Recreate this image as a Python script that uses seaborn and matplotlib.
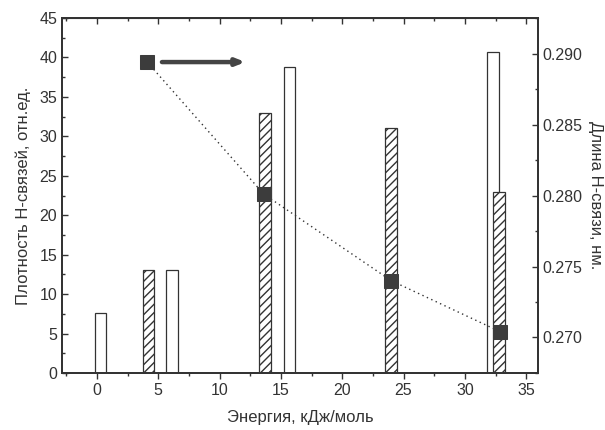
import numpy as np
import seaborn as sns
import matplotlib.pyplot as plt
from matplotlib.ticker import MultipleLocator, FormatStrFormatter

# open bars (density of H-bonds, left axis)
open_x = [0.3, 6.1, 15.7, 32.3]
open_h = [7.6, 13.0, 38.8, 40.7]

# hatched bars (density of H-bonds, left axis)
hatch_x = [4.2, 13.7, 24.0, 32.8]
hatch_h = [13.0, 33.0, 31.0, 23.0]

# H-bond length (right axis)
len_x = [4.1, 13.6, 24.0, 32.9]
len_y = [0.2894, 0.2801, 0.2740, 0.2704]

bar_w = 0.95
ink = '#333333'

sns.set_style('ticks')
plt.rcParams['font.family'] = ['Liberation Sans', 'DejaVu Sans']

fig = plt.figure(figsize=(6.05, 4.3), dpi=100)
ax = fig.add_axes([0.1025, 0.1326, 0.7865, 0.8254])

sns.barplot(x=open_x, y=open_h, native_scale=True, ax=ax,
            width=bar_w / np.diff(open_x).min(), color='white',
            edgecolor=ink, linewidth=0.9, saturation=1)
n_open = len(ax.patches)
sns.barplot(x=hatch_x, y=hatch_h, native_scale=True, ax=ax,
            width=bar_w / np.diff(hatch_x).min(), color='white',
            edgecolor=ink, linewidth=0.9, saturation=1)
for p in ax.patches[n_open:]:
    p.set_hatch('////')

ax.set_xlim(-2.85, 35.95)
ax.set_ylim(0, 45)
ax.xaxis.set_major_locator(MultipleLocator(5))
ax.xaxis.set_minor_locator(MultipleLocator(2.5))
ax.yaxis.set_major_locator(MultipleLocator(5))
ax.yaxis.set_minor_locator(MultipleLocator(2.5))
ax.tick_params(axis='x', which='major', direction='out', length=4, width=1, colors=ink, labelsize=11.5)
ax.tick_params(axis='x', which='minor', direction='out', length=2.5, width=1, colors=ink)
ax.tick_params(axis='y', which='major', direction='in', length=4, width=1, colors=ink, labelsize=11.5)
ax.tick_params(axis='y', which='minor', direction='in', length=2.5, width=1, colors=ink)
ax.set_xlabel('Энергия, кДж/моль', fontsize=12, color=ink, labelpad=8)
ax.set_ylabel('Плотность H-связей, отн.ед.', fontsize=12, color=ink, labelpad=6)

top = ax.secondary_xaxis('top')
top.xaxis.set_major_locator(MultipleLocator(5))
top.xaxis.set_minor_locator(MultipleLocator(2.5))
top.tick_params(which='major', direction='in', length=4, width=1, colors=ink, labeltop=False)
top.tick_params(which='minor', direction='in', length=2.5, width=1, colors=ink)

ax2 = ax.twinx()
sns.lineplot(x=len_x, y=len_y, ax=ax2, color=ink, linestyle=(0, (1, 2.5)),
             linewidth=1, marker='s', markersize=10, markerfacecolor='#3c3c3c',
             markeredgecolor='#3c3c3c')
ax2.set_ylim(0.2675, 0.2925)
ax2.yaxis.set_major_locator(MultipleLocator(0.005))
ax2.yaxis.set_minor_locator(MultipleLocator(0.0025))
ax2.yaxis.set_major_formatter(FormatStrFormatter('%.3f'))
ax2.tick_params(axis='y', which='major', direction='in', length=4, width=1, colors=ink, labelsize=11.5)
ax2.tick_params(axis='y', which='minor', direction='in', length=2.5, width=1, colors=ink)
ax2.set_ylabel('Длина H-связи, нм.', fontsize=12, color=ink, rotation=-90,
               va='bottom', labelpad=4)

ax2.annotate('', xy=(12.1, 0.2894), xytext=(5.3, 0.2894),
             arrowprops=dict(arrowstyle='-|>,head_length=0.5,head_width=0.2',
                             lw=3.2, color='#444444', shrinkA=0, shrinkB=0))

for a in (ax, ax2):
    for s in a.spines.values():
        s.set_visible(True)
        s.set_linewidth(1.3)
        s.set_color(ink)

fig.savefig('out.png', dpi=100)
